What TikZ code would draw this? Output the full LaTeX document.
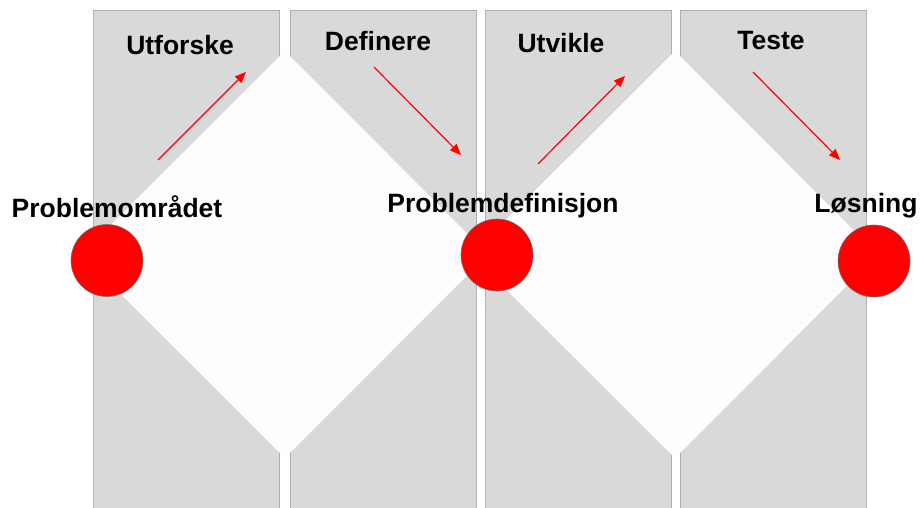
\documentclass[tikz,border=0pt]{standalone}
\usepackage{fontspec}
\setmainfont{Liberation Sans}
\usetikzlibrary{arrows.meta}
\definecolor{colfill}{HTML}{D9D9D9}
\definecolor{colline}{HTML}{B0B0B0}
\definecolor{diafill}{HTML}{FFFCFD}
\definecolor{dotred}{HTML}{FF0000}
\tikzset{
  column/.style={fill=colfill,draw=colline,line width=1pt},
  diamondfill/.style={fill=diafill,draw=none},
  lbl/.style={anchor=base,inner sep=0pt,font=\fontsize{26.5}{30}\selectfont\bfseries},
  dot/.style={circle,minimum size=72pt,inner sep=0pt,fill=dotred,draw=black!55,line width=0.6pt},
  redarrow/.style={draw=dotred,line width=1.2pt,-{Triangle[length=11pt,width=9pt]}}
}
\begin{document}
\begin{tikzpicture}[x=1pt,y=-1pt]
\useasboundingbox (0,0) rectangle (920,508);
\clip (0,0) rectangle (920,508);
% columns
\draw[column] (93,11) rectangle (279,520);
\draw[column] (290,11) rectangle (476,520);
\draw[column] (485,11) rectangle (671,520);
\draw[column] (680,11) rectangle (866,520);
% diamonds
\fill[diamondfill] (81,254.5) -- (285,51) -- (488,254.5) -- (285,458) -- cycle;
\fill[diamondfill] (471,254.5) -- (675,51) -- (878,254.5) -- (675,458) -- cycle;
% arrow coordinates
\coordinate (a1s) at (158,160);
\coordinate (a1e) at (246,72);
\coordinate (a2s) at (374,67);
\coordinate (a2e) at (461,155);
\coordinate (a3s) at (538,164);
\coordinate (a3e) at (625,76);
\coordinate (a4s) at (753,72);
\coordinate (a4e) at (840,160);
\draw[redarrow] (a1s) -- (a1e);
\draw[redarrow] (a2s) -- (a2e);
\draw[redarrow] (a3s) -- (a3e);
\draw[redarrow] (a4s) -- (a4e);
% circles
\node[dot] (c1) at (107,260.5) {};
\node[dot] (c2) at (497,255) {};
\node[dot] (c3) at (874,261) {};
% labels
\node[lbl] (l1) at (180,55) {Utforske};
\node[lbl] (l2) at (378,51) {Definere};
\node[lbl] (l3) at (561,53) {Utvikle};
\node[lbl] (l4) at (771,50) {Teste};
\node[lbl] (p1) at (117,217) {Problemområdet};
\node[lbl] (p2) at (503,212) {Problemdefinisjon};
\node[lbl] (p3) at (866,212) {Løsning};
\end{tikzpicture}
\end{document}
